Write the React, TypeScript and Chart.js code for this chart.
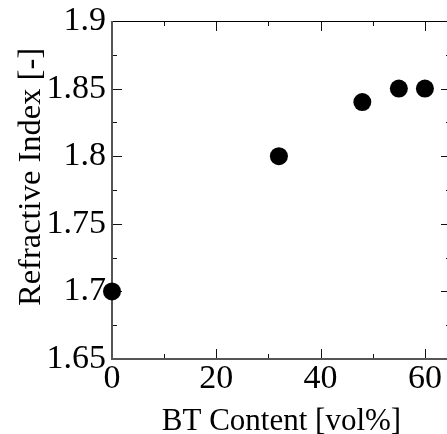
import React, { useEffect, useRef } from 'react';
import { Chart, registerables } from 'chart.js';
Chart.register(...registerables);

const btContent = [0, 32, 48, 55, 60];
const refractiveIndex = [1.7, 1.8, 1.84, 1.85, 1.85];
const xMajorTicks = [0, 20, 40, 60];
const xMinorTicks = [10, 30, 50];
const xTickLabels = ['0', '20', '40', '60'];
const yMajorTicks = [1.65, 1.7, 1.75, 1.8, 1.85, 1.9];
const yMinorTicks = [1.675, 1.725, 1.775, 1.825, 1.875];
const yTickLabels = ['1.65', '1.7', '1.75', '1.8', '1.85', '1.9'];
const xTitle = 'BT Content [vol%]';
const yTitle = 'Refractive Index [-]';

const FONT = "'Liberation Serif', 'Times New Roman', serif";

const framePlugin = {
  id: 'frame',
  beforeDatasetsDraw(chart: any) {
    const { ctx, chartArea, scales } = chart;
    const { left, right, top, bottom } = chartArea;
    const x = scales.x;
    const y = scales.y;
    const line = (x1: number, y1: number, x2: number, y2: number) => {
      ctx.beginPath();
      ctx.moveTo(x1, y1);
      ctx.lineTo(x2, y2);
      ctx.stroke();
    };
    ctx.save();
    ctx.strokeStyle = '#111';
    ctx.lineWidth = 1;
    const xt = (v: number, len: number) => {
      const p = Math.round(x.getPixelForValue(v)) + 0.5;
      line(p, bottom, p, bottom - len);
      line(p, top, p, top + len);
    };
    const yt = (v: number, len: number) => {
      const p = Math.round(y.getPixelForValue(v)) + 0.5;
      line(left, p, left + len, p);
      line(right, p, right - len, p);
    };
    xMajorTicks.forEach((v) => xt(v, 10));
    xMinorTicks.forEach((v) => xt(v, 5));
    yMajorTicks.forEach((v) => yt(v, 10));
    yMinorTicks.forEach((v) => yt(v, 5));
    // top and right frame
    ctx.strokeStyle = '#000';
    ctx.lineWidth = 1.2;
    line(left, top + 0.5, right, top + 0.5);
    line(right - 0.5, top, right - 0.5, bottom);
    // left and bottom axes
    ctx.strokeStyle = '#555';
    ctx.lineWidth = 2;
    line(left, top, left, bottom + 1);
    line(left - 1, bottom, right, bottom);
    // y axis title
    ctx.fillStyle = '#000';
    ctx.font = `32.5px ${FONT}`;
    ctx.textAlign = 'center';
    ctx.textBaseline = 'alphabetic';
    ctx.translate(40, 177);
    ctx.rotate(-Math.PI / 2);
    ctx.fillText(yTitle, 0, 0);
    ctx.restore();
  },
};

export default function App() {
  const ref = useRef<HTMLCanvasElement | null>(null);
  useEffect(() => {
    if (!ref.current) return;
    const chart = new Chart(ref.current, {
      type: 'scatter',
      data: {
        datasets: [
          {
            data: btContent.map((v, i) => ({ x: v, y: refractiveIndex[i] })),
            backgroundColor: '#000',
            borderColor: '#000',
            borderWidth: 0,
            pointRadius: 9,
            pointHoverRadius: 9,
            clip: false as any,
          },
        ],
      },
      options: {
        animation: false,
        responsive: false,
        events: [],
        layout: { autoPadding: false, padding: { top: 21, left: 0, right: 0, bottom: 0 } },
        plugins: { legend: { display: false }, tooltip: { enabled: false } },
        scales: {
          x: {
            type: 'linear',
            min: 0,
            max: 65,
            afterBuildTicks: (s: any) => {
              s.ticks = xMajorTicks.map((v) => ({ value: v }));
            },
            afterFit: (s: any) => {
              s.height = 75;
              s.paddingLeft = 0;
              s.paddingRight = 0;
            },
            grid: { display: false, drawTicks: false },
            border: { display: false },
            ticks: {
              padding: 3,
              color: '#000',
              font: { family: FONT, size: 34, lineHeight: 1 },
              maxRotation: 0,
              autoSkip: false,
              callback: (v: any) => {
                const i = xMajorTicks.indexOf(v);
                return i >= 0 ? xTickLabels[i] : '';
              },
            },
            title: {
              display: true,
              text: xTitle,
              color: '#000',
              font: { family: FONT, size: 31, lineHeight: 0.8 },
              padding: { top: 0, bottom: 0 },
            },
          },
          y: {
            type: 'linear',
            min: 1.65,
            max: 1.9,
            afterBuildTicks: (s: any) => {
              s.ticks = yMajorTicks.map((v) => ({ value: v }));
            },
            afterFit: (s: any) => {
              s.width = 112;
              s.paddingTop = 0;
              s.paddingBottom = 0;
            },
            grid: { display: false, drawTicks: false },
            border: { display: false },
            ticks: {
              padding: 6,
              color: '#000',
              font: { family: FONT, size: 34, lineHeight: 1 },
              autoSkip: false,
              callback: (v: any) => {
                const i = yMajorTicks.indexOf(v);
                return i >= 0 ? yTickLabels[i] : '';
              },
            },
            title: { display: false },
          },
        },
      },
      plugins: [framePlugin],
    });
    return () => chart.destroy();
  }, []);
  return (
    <div
      style={{
        position: 'fixed',
        left: 0,
        top: 0,
        width: 447,
        height: 434,
        overflow: 'hidden',
        background: '#fff',
      }}
    >
      <canvas ref={ref} width={451} height={434} style={{ display: 'block' }} />
    </div>
  );
}
